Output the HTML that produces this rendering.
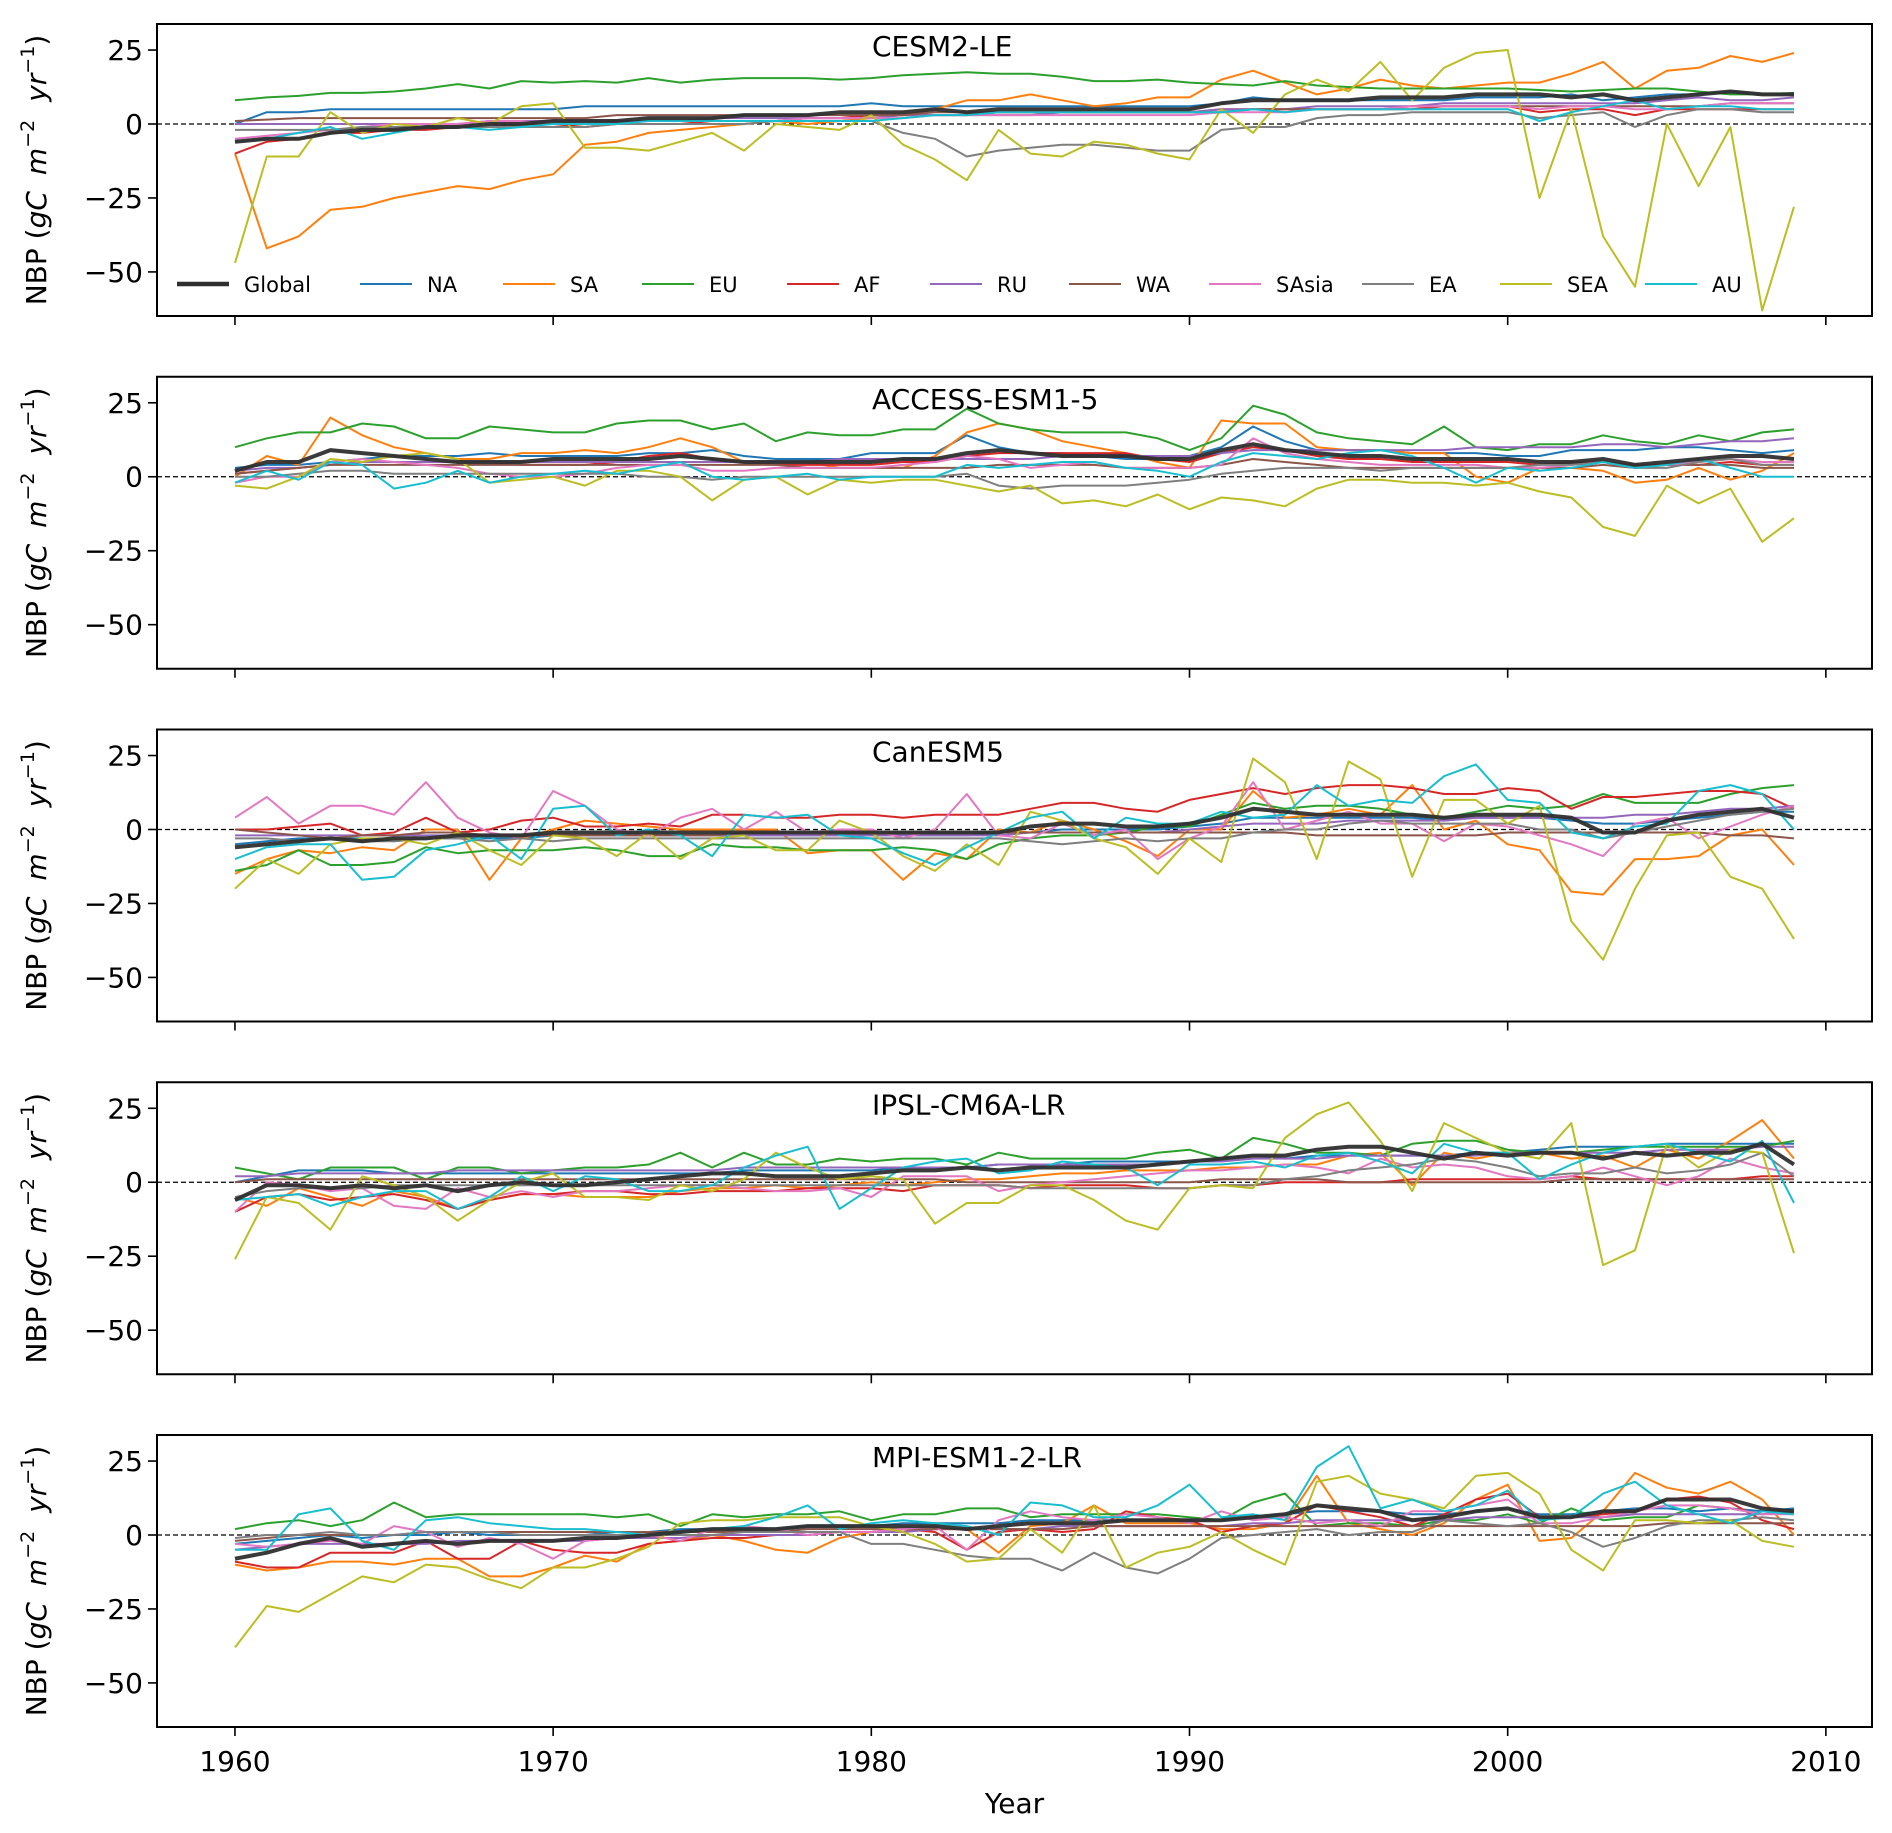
<!DOCTYPE html>
<html><head><meta charset="utf-8"><style>
html,body{margin:0;padding:0;background:#fff}
svg{display:block;font-family:"DejaVu Sans","Liberation Sans",sans-serif}
</style></head><body>
<svg id="chart" width="1892" height="1833" viewBox="0 0 1892 1833" xmlns="http://www.w3.org/2000/svg"></svg>
<script>
const years = Array.from({length:50},(_, i)=>1960+i);
const seriesNames = ["Global","NA","SA","EU","AF","RU","WA","SAsia","EA","SEA","AU"];
const modelNames = ["CESM2-LE","ACCESS-ESM1-5","CanESM5","IPSL-CM6A-LR","MPI-ESM1-2-LR"];
const yTicks = [25,0,-25,-50];
const xTicks = [1960,1970,1980,1990,2000,2010];

const cesmGlobal=[-6,-5,-5,-3,-2,-2,-1,-1,0,0,1,1,1,2,2,2,3,3,3,4,4,4,5,4,5,5,5,5,5,5,5,7,8,8,8,8,9,9,9,10,10,10,9,10,8,9,10,11,10,10];
const cesmNA=[0,4,4,5,5,5,5,5,5,5,5,6,6,6,6,6,6,6,6,6,7,6,6,6,6,6,6,6,6,6,6,7,9,8,8,8,8,8,8,9,9,9,10,8,9,10,10,11,10,10];
const cesmSA=[-10,-42,-38,-29,-28,-25,-23,-21,-22,-19,-17,-7,-6,-3,-2,-1,0,1,0,1,2,3,5,8,8,10,8,6,7,9,9,15,18,14,10,12,15,13,12,13,14,14,17,21,12,18,19,23,21,24];
const cesmEU=[8,9,9.5,10.5,10.5,11,12,13.5,12,14.5,14,14.5,14,15.5,14,15,15.5,15.5,15.5,15,15.5,16.5,17,17.5,17,17,16,14.5,14.5,15,14,13.5,13,14.5,13,12.5,12,12,12,12,12,11.5,11,11.5,12,12,11,10,10,10.5];
const cesmAF=[-10,-6,-5,-3,-3,-2,-2,-1,-1,0,0,-1,0,0,0,1,1,1,2,2,3,3,3,3,4,4,4,4,4,4,4,5,5,5,5,5,5,5,6,6,6,4,5,5,3,5,5,5,5,5];
const cesmRU=[0,0,0,0,0,0,0,0,1,1,1,1,1,1,1,2,2,2,2,2,2,3,3,3,3,3,4,4,4,4,4,5,5,5,6,6,6,6,7,7,7,7,7,7,7,8,9,8,8,9];
const cesmWA=[1,1.5,2,2,2,2,2,2,2,2,2,2,3,3,3,3,3,3,3,3,3,3,4,4,4,4,4,4,4,4,4,4,5,5,5,5,5,6,6,6,6,6,6,6,6,6,6,7,7,7];
const cesmSAsia=[-5,-4,-3,-2,-1,0,0,0,1,1,0,0,0,1,1,1,1,1,2,2,2,2,3,3,3,3,3,3,3,3,3,4,4,4,5,5,5,6,6,6,6,5,6,6,5,5,6,7,7,7];
const cesmEA=[-2,-2,-2,-2,-1,-1,-1,-1,-1,-1,-1,-1,0,0,0,0,0,1,1,1,1,-3,-5,-11,-9,-8,-7,-7,-8,-9,-9,-2,-1,-1,2,3,3,4,4,4,4,2,3,4,-1,3,5,5,4,4];
const cesmSEA=[-47,-11,-11,4,-3,0,-1,2,0,6,7,-8,-8,-9,-6,-3,-9,0,-1,-2,3,-7,-12,-19,-2,-10,-11,-6,-7,-10,-12,5,-3,10,15,11,21,8,19,24,25,-25,5,-38,-55,0,-21,-1,-63,-28];
const cesmAU=[-6,-5,-3,-1,-5,-3,-1,-1,-2,-1,0,0,0,1,1,1,1,1,1,1,1,2,3,3,4,4,4,4,4,4,4,4,5,4,5,5,5,5,5,5,5,1,4,6,8,5,6,6,5,5];

const accGlobal=[2,5,5,9,8,7,6,5,5,5,6,6,6,6,7,6,5,5,5,5,5,6,6,8,9,8,7,7,7,6,6,9,11,9,8,7,7,6,6,6,6,5,5,6,4,5,6,7,7,6];
const accNA=[3,4,4,5,6,7,7,7,8,7,7,7,7,8,8,9,7,6,6,6,8,8,8,14,10,8,8,7,6,6,7,10,17,12,9,9,9,8,8,8,7,7,9,9,9,10,10,9,8,9];
const accSA=[0,7,4,20,14,10,8,6,6,8,8,9,8,10,13,10,5,5,5,3,3,3,7,15,18,16,12,10,8,5,3,19,18,18,10,9,9,8,8,0,-2,3,3,2,-2,-1,3,-1,2,8];
const accEU=[10,13,15,15,18,17,13,13,17,16,15,15,18,19,19,16,18,12,15,14,14,16,16,23,18,16,15,15,15,13,9,13,24,21,15,13,12,11,17,10,9,11,11,14,12,11,14,12,15,16];
const accAF=[1,2,3,4,5,5,5,5,5,4,4,4,5,7,8,6,5,4,4,4,4,5,5,7,8,8,8,8,8,6,5,8,10,9,7,6,6,5,5,5,5,4,5,5,4,4,4,5,4,4];
const accRU=[2,3,3,4,5,5,5,5,5,5,5,5,5,5,5,5,5,5,5,6,6,6,6,6,6,6,7,7,7,7,7,8,9,9,9,9,9,9,9,10,10,10,10,11,11,10,11,12,12,13];
const accWA=[1,2,3,4,4,4,4,4,4,4,4,4,4,4,4,4,4,4,3,3,3,3,3,3,4,4,4,4,3,3,3,4,6,5,4,3,3,3,3,3,3,3,3,4,3,4,4,4,3,3];
const accSAsia=[-2,0,0,5,6,5,4,3,1,0,0,1,3,4,4,2,2,3,3,3,3,4,5,7,6,3,4,5,3,3,3,4,13,8,6,5,4,4,4,4,3,3,4,5,3,4,5,6,5,5];
const accEA=[0,0,1,2,2,1,1,1,1,1,1,1,1,0,0,-1,0,0,0,0,0,0,0,1,-3,-4,-3,-3,-3,-2,-1,1,2,3,3,3,2,3,3,3,3,4,4,5,3,3,5,6,4,4];
const accSEA=[-3,-4,0,6,5,7,8,6,-2,-1,0,-3,2,2,0,-8,-1,0,-6,-1,-2,-1,-1,-3,-5,-3,-9,-8,-10,-6,-11,-7,-8,-10,-4,-1,-1,-2,-2,-3,-2,-5,-7,-17,-20,-3,-9,-4,-22,-14];
const accAU=[-2,2,-1,5,4,-4,-2,2,-2,0,1,2,1,3,5,0,-1,0,1,-1,0,0,0,4,3,4,5,5,3,2,0,5,8,7,6,8,9,7,3,-2,3,2,3,5,3,4,6,3,0,0];

const canGlobal=[-6,-5,-4,-3,-4,-3,-3,-2,-2,-2,-1,-1,-1,-1,-1,-1,-1,-1,-1,-1,-1,-1,-1,-1,-1,1,2,2,1,1,2,4,7,6,5,5,5,5,4,5,5,5,4,-1,-1,3,5,6,7,4];
const canNA=[-5,-4,-3,-3,-3,-4,-3,-3,-3,-3,-2,-2,-2,-2,-2,-2,-2,-2,-2,-2,-2,-2,-2,-2,-1,-1,0,0,0,0,1,2,4,4,4,4,4,4,3,4,4,4,3,2,2,3,4,5,6,6];
const canSA=[-15,-10,-7,-8,-6,-7,0,0,-17,-3,0,3,2,1,0,0,0,0,-8,-7,-7,-17,-8,-10,0,-1,3,0,-4,-9,0,0,13,4,5,7,5,15,0,3,-5,-7,-21,-22,-10,-10,-9,-2,0,-12];
const canEU=[-14,-12,-7,-12,-12,-11,-6,-8,-7,-7,-7,-6,-7,-9,-9,-5,-6,-6,-7,-7,-7,-6,-7,-10,-5,-3,-2,-2,-1,1,1,5,9,7,8,8,7,5,4,6,8,7,8,12,9,9,9,12,14,15];
const canAF=[0,0,1,2,-2,-1,4,-1,0,3,4,1,1,2,1,5,5,4,4,5,5,4,5,5,5,7,9,9,7,6,10,12,14,12,14,15,15,14,12,12,14,13,7,11,11,12,13,13,12,7];
const canRU=[-2,-2,-2,-2,-2,-2,-2,-2,-2,-2,-2,-2,-2,-2,-2,-2,-2,-2,-2,-2,-2,-2,-2,-2,-2,-1,-1,-1,-1,-1,0,1,2,2,2,3,3,3,3,4,4,4,4,4,5,5,6,7,7,8];
const canWA=[0,-1,-2,-3,-2,-2,-1,-1,-2,-2,-2,-2,-2,-2,-2,-2,-1,-1,-1,-1,-1,-1,-1,-1,-1,-1,-1,-1,-1,-1,-1,-1,-1,-1,-2,-2,-2,-2,-2,-2,-1,-1,-1,-1,-1,-1,-1,-2,-2,-3];
const canSAsia=[4,11,2,8,8,5,16,4,-1,-3,13,8,0,-2,4,7,0,6,-1,0,0,-3,0,12,-2,-3,2,-2,0,-10,-3,1,16,0,3,6,2,2,-4,2,1,-2,-5,-9,2,4,-3,1,5,8];
const canEA=[-3,-3,-4,-3,-4,-4,-3,-3,-4,-3,-4,-3,-3,-3,-3,-3,-3,-3,-3,-3,-3,-3,-3,-3,-3,-4,-5,-4,-3,-4,-3,-3,-1,0,0,2,3,2,2,2,2,0,0,-3,-1,1,3,5,6,7];
const canSEA=[-20,-10,-15,-5,-3,-3,-5,-1,-7,-12,-2,-3,-9,-1,-10,-3,-2,-7,-7,3,-1,-9,-14,-5,-12,6,3,-3,-6,-15,-3,-11,24,16,-10,23,17,-16,10,10,2,8,-31,-44,-20,-2,-1,-16,-20,-37];
const canAU=[-10,-6,-5,-5,-17,-16,-7,-5,-2,-10,7,8,-2,0,-2,-9,5,4,5,-2,-3,-8,-12,-6,-1,4,6,-3,4,2,2,6,4,5,15,8,10,9,18,22,10,9,-1,-3,1,2,13,15,12,0];

const ipslGlobal=[-6,-1,-1,-2,-1,-2,-1,-3,-1,0,-1,-1,0,1,2,3,3,2,2,2,3,4,4,5,4,5,5,5,5,6,7,8,9,9,11,12,12,10,8,10,9,10,10,8,10,9,10,10,13,6];
const ipslNA=[0,2,4,4,4,3,3,3,3,3,3,3,3,3,3,3,4,4,4,4,4,5,5,5,6,6,6,7,7,7,7,8,9,8,9,9,9,9,9,10,10,11,12,12,12,13,13,13,13,13];
const ipslSA=[-5,-8,-2,-5,-8,-3,-5,-9,-6,-4,-4,-5,-5,-5,-3,-2,-2,-1,-2,-1,0,-1,0,1,1,2,3,3,4,4,4,5,5,6,6,9,10,-1,10,8,10,10,8,9,5,11,8,14,21,8];
const ipslEU=[5,3,1,5,5,5,1,5,5,3,4,5,5,6,10,5,10,6,6,8,7,8,8,6,10,8,8,8,8,10,11,8,15,13,10,10,9,13,14,14,11,10,10,11,12,12,12,12,12,14];
const ipslAF=[-10,-5,-4,-6,-5,-4,-6,-9,-6,-4,-4,-3,-3,-4,-4,-3,-3,-3,-2,-2,-2,-3,-1,-1,-1,-2,-1,-1,-1,-2,-2,-1,-1,0,0,0,0,1,1,1,1,1,2,1,1,1,1,1,2,2];
const ipslRU=[2,2,3,3,3,3,3,4,4,4,4,4,4,4,4,4,5,5,5,5,5,5,5,5,6,6,6,6,6,6,7,7,8,8,8,9,9,9,9,9,10,10,10,10,10,11,11,11,12,12];
const ipslWA=[0,1,1,1,1,1,1,1,1,1,1,1,1,1,1,1,1,1,1,1,1,1,1,0,0,0,0,0,0,0,0,1,1,1,1,0,0,0,0,0,0,0,1,1,1,1,1,1,1,1];
const ipslSAsia=[-10,0,-1,-3,-2,-8,-9,-2,-5,-3,-5,-3,-3,-2,-1,-1,-2,-3,-3,-2,-5,2,2,2,-3,-1,0,1,2,3,4,4,5,6,5,3,8,5,6,5,2,1,2,5,2,-1,2,8,5,3];
const ipslEA=[-5,-3,-2,-2,-2,-1,-1,-1,-1,-1,-1,-1,-1,-1,-1,-1,-1,-1,-1,-1,-1,-1,-1,-1,-1,-2,-2,-2,-2,-2,-2,-1,-1,1,2,4,5,6,8,7,5,2,3,3,5,3,4,6,10,2];
const ipslSEA=[-26,-5,-7,-16,2,-1,-5,-13,-6,0,3,-5,-5,-6,-1,-3,1,10,5,1,2,1,-14,-7,-7,-1,-1,-6,-13,-16,-2,-1,-2,15,23,27,14,-3,20,15,10,8,20,-28,-23,13,5,11,10,-24];
const ipslAU=[-6,-5,-4,-8,-5,-3,-3,-9,-5,2,-3,2,1,-3,-3,-1,5,9,12,-9,-2,5,7,8,3,4,7,6,5,-1,6,6,7,5,9,10,7,3,13,10,10,1,6,10,12,13,10,7,14,-7];

const mpiGlobal=[-8,-6,-3,-1,-4,-3,-2,-3,-2,-2,-2,-1,-1,0,1,2,2,2,3,3,3,3,3,2,3,4,4,4,5,5,5,5,6,7,10,9,8,5,6,8,9,6,6,8,8,12,12,12,9,8];
const mpiNA=[-3,-2,-1,0,-1,0,0,1,0,0,0,0,1,1,2,2,2,2,3,3,3,4,4,4,4,5,5,5,5,5,5,5,6,7,8,8,8,7,7,8,9,7,7,8,9,9,8,9,8,9];
const mpiSA=[-10,-12,-11,-9,-9,-10,-8,-8,-14,-14,-11,-7,-9,-3,-2,0,-2,-5,-6,-1,1,1,2,2,-6,3,4,10,4,4,4,2,2,4,20,4,2,0,4,12,17,-2,-1,8,21,16,14,18,12,0];
const mpiEU=[2,4,5,3,5,11,6,7,7,7,7,7,6,7,3,7,6,7,7,8,5,7,7,9,9,6,7,7,7,7,6,5,11,14,3,4,4,3,5,5,7,4,9,5,6,6,10,9,7,8];
const mpiAF=[-9,-11,-11,-6,-6,-6,-2,-8,-8,-2,-5,-6,-6,-3,-2,-1,-1,0,0,1,1,2,1,-5,1,2,1,2,8,6,5,1,3,4,10,8,6,3,7,12,14,6,6,7,8,12,13,11,5,2];
const mpiRU=[-5,-4,-3,-3,-3,-3,-3,-2,-2,-2,-2,-2,-1,-1,-1,0,0,0,0,1,1,1,2,2,2,2,3,3,3,3,3,3,4,4,5,5,5,5,5,6,6,6,6,6,7,7,7,7,7,8];
const mpiWA=[-2,-1,0,0,0,0,1,1,1,1,1,1,1,1,1,1,1,1,2,2,2,2,2,2,2,2,2,3,3,3,3,3,3,3,3,3,3,3,3,3,3,3,3,3,3,4,4,4,4,4];
const mpiSAsia=[-3,-4,-3,-2,-3,3,1,-4,-1,-3,-8,-2,-1,0,-2,2,3,2,0,1,1,2,3,-5,5,8,6,5,7,6,4,8,5,6,4,5,3,8,8,10,12,4,4,6,8,10,10,9,7,7];
const mpiEA=[-1,0,0,1,0,0,1,1,1,0,0,0,0,0,0,0,1,1,1,1,-3,-3,-5,-7,-8,-8,-12,-6,-11,-13,-8,-1,0,1,2,0,1,1,5,4,3,4,1,-4,-1,3,5,5,6,5];
const mpiSEA=[-38,-24,-26,-20,-14,-16,-10,-11,-15,-18,-11,-11,-8,-4,4,5,5,6,6,6,3,1,-3,-9,-8,2,-6,10,-11,-6,-4,1,-5,-10,18,20,14,12,9,20,21,14,-5,-12,5,5,4,5,-2,-4];
const mpiAU=[-5,-5,7,9,-2,-5,5,6,4,3,2,2,1,0,1,2,3,6,10,2,4,5,4,3,0,11,10,6,6,10,17,6,7,5,23,30,9,12,8,10,15,5,6,14,18,10,7,4,8,7];

const panelsData = [
 [cesmGlobal,cesmNA,cesmSA,cesmEU,cesmAF,cesmRU,cesmWA,cesmSAsia,cesmEA,cesmSEA,cesmAU],
 [accGlobal,accNA,accSA,accEU,accAF,accRU,accWA,accSAsia,accEA,accSEA,accAU],
 [canGlobal,canNA,canSA,canEU,canAF,canRU,canWA,canSAsia,canEA,canSEA,canAU],
 [ipslGlobal,ipslNA,ipslSA,ipslEU,ipslAF,ipslRU,ipslWA,ipslSAsia,ipslEA,ipslSEA,ipslAU],
 [mpiGlobal,mpiNA,mpiSA,mpiEU,mpiAF,mpiRU,mpiWA,mpiSAsia,mpiEA,mpiSEA,mpiAU]
];

const colors=["#2f2f2f","#1f77b4","#ff7f0e","#2ca02c","#d62728","#9467bd","#8c564b","#e377c2","#7f7f7f","#bcbd22","#17becf"];
const NS="http://www.w3.org/2000/svg";
const svg=document.getElementById('chart');
const L=157,R=1872,PH=292,step=352.75,T0=24;
const xMin=1957.55,xMax=2011.45,yMin=-64.9,yMax=33.8;
const xs=v=>L+(v-xMin)/(xMax-xMin)*(R-L);
function mk(tag,attrs){const e=document.createElementNS(NS,tag);for(const k in attrs)e.setAttribute(k,attrs[k]);return e;}

panelsData.forEach((pd,p)=>{
  const top=T0+p*step, bot=top+PH;
  const ys=v=>bot-(v-yMin)/(yMax-yMin)*PH;
  const g=mk('g',{});
  
  
  svg.appendChild(g);
  const clip=mk('clipPath',{id:'c'+p});clip.appendChild(mk('rect',{x:L,y:top,width:R-L,height:PH}));g.appendChild(clip);
  const zl=mk('line',{x1:L,x2:R,y1:ys(0),y2:ys(0),stroke:'#000','stroke-width':1.2,'stroke-dasharray':'5,3'});
  
  
  g.appendChild(zl);
  const lg=mk('g',{'clip-path':'url(#c'+p+')'});g.appendChild(lg);
  const order=[1,2,3,4,5,6,7,8,9,10,0];
  order.forEach(s=>{
    const pts=pd[s].map((v,i)=>xs(years[i]).toFixed(1)+','+ys(v).toFixed(1)).join(' ');
    const pl=mk('polyline',{points:pts,fill:'none',stroke:colors[s],'stroke-width':s===0?4:2,'stroke-linejoin':'round',opacity:s===0?0.95:1});
    
    
    lg.appendChild(pl);
  });
  const fr=mk('rect',{x:L,y:top,width:R-L,height:PH,fill:'none',stroke:'#000','stroke-width':2});
  
  
  g.appendChild(fr);
  yTicks.forEach(t=>{
    const y=ys(t);
    g.appendChild(mk('line',{x1:L-9,x2:L,y1:y,y2:y,stroke:'#000','stroke-width':1.6}));
    const tx=mk('text',{x:L-14,y:y+10,'text-anchor':'end','font-size':28});
    tx.textContent=(t<0?'\u2212':'')+Math.abs(t);
    
    
    g.appendChild(tx);
  });
  xTicks.forEach(t=>{
    g.appendChild(mk('line',{x1:xs(t),x2:xs(t),y1:bot,y2:bot+9,stroke:'#000','stroke-width':1.6}));
    if(p===4){
      const tx=mk('text',{x:xs(t),y:bot+44,'text-anchor':'middle','font-size':28});
      tx.textContent=t;
      
      
      g.appendChild(tx);
    }
  });
  const title=mk('text',{x:872,y:top+32,'font-size':28});
  title.textContent=modelNames[p];
  
  
  g.appendChild(title);
  const yl=mk('text',{transform:'translate(46,'+(top+PH/2)+') rotate(-90)','text-anchor':'middle','font-size':28});
  yl.innerHTML='NBP (<tspan font-style="italic">gC</tspan><tspan dx="16" font-style="italic">m</tspan><tspan font-size="19" dy="-12">\u22122</tspan><tspan dx="18" dy="12" font-style="italic">yr</tspan><tspan font-size="19" dy="-12">\u22121</tspan><tspan dy="12">)</tspan>';
  
  
  g.appendChild(yl);
});

const xl=mk('text',{x:(L+R)/2,y:1813,'text-anchor':'middle','font-size':28});
xl.textContent='Year';


svg.appendChild(xl);

const legX=[177,360,503,642,787,930,1069,1209,1362,1500,1645];
const leg=mk('g',{});


svg.appendChild(leg);
seriesNames.forEach((n,s)=>{
  const x=legX[s], y=284;
  const ln=mk('line',{x1:x,x2:x+52,y1:y,y2:y,stroke:colors[s],'stroke-width':s===0?4.5:2});
  
  
  leg.appendChild(ln);
  const tx=mk('text',{x:x+67,y:y+8,'font-size':21});
  tx.textContent=n;
  
  
  leg.appendChild(tx);
});
</script>
</body></html>
